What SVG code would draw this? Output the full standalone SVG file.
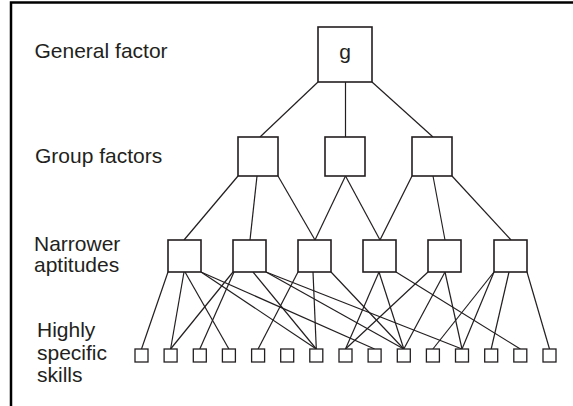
<svg xmlns="http://www.w3.org/2000/svg" width="573" height="406" viewBox="0 0 573 406">
<style>
.lbl{font-family:"Liberation Sans",Arial,sans-serif;font-size:21px;fill:#231f20}
.box{fill:#fff;stroke:#231f20;stroke-width:1.6}
.sk{fill:#fff;stroke:#231f20;stroke-width:1.3}
.ln{stroke:#231f20;stroke-width:1.2;fill:none}
.frame{stroke:#000;stroke-width:2.5;fill:none}
</style>
<rect width="573" height="406" fill="#fff"/>
<path class="frame" d="M11,406 V2.5 H573"/>
<g id="labels">
<text class="lbl" x="34.5" y="58">General factor</text>
<text class="lbl" x="35" y="163">Group factors</text>
<text class="lbl" x="34" y="251">Narrower</text>
<text class="lbl" x="34" y="272">aptitudes</text>
<text class="lbl" x="37" y="337">Highly</text>
<text class="lbl" x="37" y="360">specific</text>
<text class="lbl" x="37" y="382">skills</text>
</g>
<g id="connectors">
<line class="ln" x1="318" y1="82" x2="260" y2="137"/>
<line class="ln" x1="345.5" y1="82" x2="345.5" y2="137"/>
<line class="ln" x1="372" y1="82" x2="433" y2="137"/>
<line class="ln" x1="238" y1="176" x2="184" y2="240"/>
<line class="ln" x1="257" y1="176" x2="250" y2="240"/>
<line class="ln" x1="278" y1="176" x2="315" y2="240"/>
<line class="ln" x1="345.5" y1="176" x2="315" y2="240"/>
<line class="ln" x1="345.5" y1="176" x2="380" y2="240"/>
<line class="ln" x1="412" y1="176" x2="380" y2="240"/>
<line class="ln" x1="433" y1="176" x2="445" y2="240"/>
<line class="ln" x1="452" y1="176" x2="511" y2="240"/>
<line class="ln" x1="168" y1="272" x2="141.5" y2="349"/>
<line class="ln" x1="184" y1="272" x2="170.6" y2="349"/>
<line class="ln" x1="185" y1="272" x2="228.9" y2="349"/>
<line class="ln" x1="201" y1="272" x2="316.3" y2="349"/>
<line class="ln" x1="201" y1="272" x2="374.6" y2="349"/>
<line class="ln" x1="233" y1="272" x2="170.6" y2="349"/>
<line class="ln" x1="234" y1="272" x2="199.8" y2="349"/>
<line class="ln" x1="253" y1="272" x2="316.3" y2="349"/>
<line class="ln" x1="266" y1="272" x2="403.8" y2="349"/>
<line class="ln" x1="266" y1="272" x2="462" y2="349"/>
<line class="ln" x1="298" y1="272" x2="258.1" y2="349"/>
<line class="ln" x1="313" y1="272" x2="316.3" y2="349"/>
<line class="ln" x1="331" y1="272" x2="403.8" y2="349"/>
<line class="ln" x1="379" y1="272" x2="345.5" y2="349"/>
<line class="ln" x1="379" y1="272" x2="403.8" y2="349"/>
<line class="ln" x1="396" y1="272" x2="520.3" y2="349"/>
<line class="ln" x1="428" y1="272" x2="345.5" y2="349"/>
<line class="ln" x1="445" y1="272" x2="403.8" y2="349"/>
<line class="ln" x1="445" y1="272" x2="462" y2="349"/>
<line class="ln" x1="494" y1="272" x2="432.9" y2="349"/>
<line class="ln" x1="494" y1="272" x2="462" y2="349"/>
<line class="ln" x1="509" y1="272" x2="491.2" y2="349"/>
<line class="ln" x1="527" y1="272" x2="549.5" y2="349"/>
</g>
<g id="g"><rect class="box" x="318" y="27" width="54" height="55"/><text class="lbl" x="345" y="59" text-anchor="middle" font-size="22">g</text></g>
<g id="group1"><rect class="box" x="238" y="137" width="40" height="39"/></g>
<g id="group2"><rect class="box" x="325" y="137" width="40" height="39"/></g>
<g id="group3"><rect class="box" x="412" y="137" width="40" height="39"/></g>
<g id="apt1"><rect class="box" x="168" y="240" width="33" height="32"/></g>
<g id="apt2"><rect class="box" x="233" y="240" width="33" height="32"/></g>
<g id="apt3"><rect class="box" x="298" y="240" width="33" height="32"/></g>
<g id="apt4"><rect class="box" x="363" y="240" width="33" height="32"/></g>
<g id="apt5"><rect class="box" x="428" y="240" width="33" height="32"/></g>
<g id="apt6"><rect class="box" x="494" y="240" width="33" height="32"/></g>
<g id="skill1"><rect class="sk" x="135" y="349" width="13" height="13"/></g>
<g id="skill2"><rect class="sk" x="164.1" y="349" width="13" height="13"/></g>
<g id="skill3"><rect class="sk" x="193.3" y="349" width="13" height="13"/></g>
<g id="skill4"><rect class="sk" x="222.4" y="349" width="13" height="13"/></g>
<g id="skill5"><rect class="sk" x="251.6" y="349" width="13" height="13"/></g>
<g id="skill6"><rect class="sk" x="280.7" y="349" width="13" height="13"/></g>
<g id="skill7"><rect class="sk" x="309.8" y="349" width="13" height="13"/></g>
<g id="skill8"><rect class="sk" x="339" y="349" width="13" height="13"/></g>
<g id="skill9"><rect class="sk" x="368.1" y="349" width="13" height="13"/></g>
<g id="skill10"><rect class="sk" x="397.3" y="349" width="13" height="13"/></g>
<g id="skill11"><rect class="sk" x="426.4" y="349" width="13" height="13"/></g>
<g id="skill12"><rect class="sk" x="455.5" y="349" width="13" height="13"/></g>
<g id="skill13"><rect class="sk" x="484.7" y="349" width="13" height="13"/></g>
<g id="skill14"><rect class="sk" x="513.8" y="349" width="13" height="13"/></g>
<g id="skill15"><rect class="sk" x="543" y="349" width="13" height="13"/></g>
</svg>
